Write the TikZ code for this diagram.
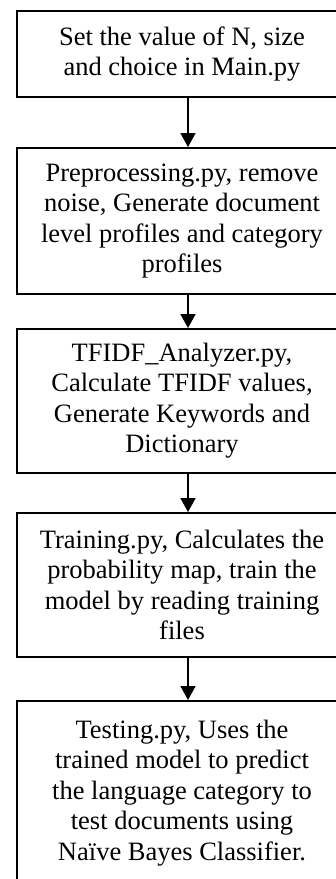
\documentclass[tikz,border=0pt]{standalone}
\usepackage{fontspec}
\setmainfont{Liberation Serif}
\usepackage{tikz}
\usetikzlibrary{arrows.meta}

\begin{document}
\begin{tikzpicture}[x=1pt, y=1pt,
          stepbox/.style={rectangle, draw, line width=1.8pt, minimum width=330pt,
                      anchor=north, align=center, inner sep=0pt,
                      font=\fontsize{26.5}{30.5}\selectfont},
          arr/.style={-{Triangle[length=14pt, width=15pt]}, line width=1.8pt}
        ]
        \path[use as bounding box] (0,0) rectangle (335,-879);

        % Main
        \node[stepbox, minimum height=86pt] (main) at (182,-10)
              {Set the value of N, size\\and choice in Main.py};

        % Preprocessing
        \node[stepbox, minimum height=146pt] (prep) at (182,-147)
              {Preprocessing.py, remove\\noise, Generate document\\level profiles and category\\profiles};

        % TFIDF
        \node[stepbox, minimum height=144pt] (tfidf) at (182,-328)
              {TFIDF\_Analyzer.py,\\Calculate TFIDF values,\\Generate Keywords and\\Dictionary};

        % Training
        \node[stepbox, minimum height=144pt] (train) at (182,-512)
              {Training.py, Calculates the\\probability map, train the\\model by reading training\\files};

        % Testing
        \node[stepbox, minimum height=184pt] (test) at (182,-700)
              {Testing.py, Uses the\\trained model to predict\\the language category to\\test documents using\\Naïve Bayes Classifier.};

        \draw[arr] ([xshift=6pt]main.south)  -- ([xshift=6pt]prep.north);
        \draw[arr] ([xshift=6pt]prep.south)  -- ([xshift=6pt]tfidf.north);
        \draw[arr] ([xshift=6pt]tfidf.south) -- ([xshift=6pt]train.north);
        \draw[arr] ([xshift=6pt]train.south) -- ([xshift=6pt]test.north);
      \end{tikzpicture}
\end{document}
